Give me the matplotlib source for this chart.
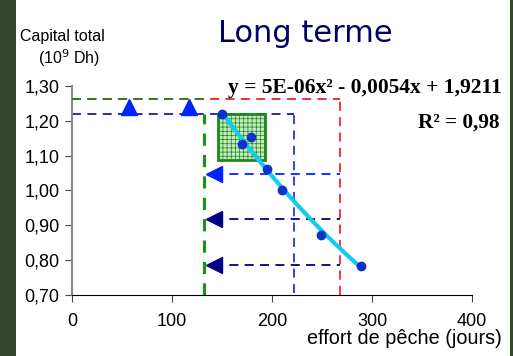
import numpy as np
import matplotlib
matplotlib.use('Agg')
import matplotlib.pyplot as plt
from matplotlib.patches import Rectangle

plt.rcParams.update({'font.family': 'Liberation Sans', 'font.size': 13})
plt.rcParams['hatch.color'] = '#9fd39a'
plt.rcParams['hatch.linewidth'] = 0.5

# observed points
effort = np.array([150, 170, 179, 195, 210, 249, 289])
capital = np.array([1.22, 1.133, 1.153, 1.062, 1.002, 0.872, 0.783])

# quadratic trend
coef = [5e-06, -0.0054, 1.9211]
xfit = np.linspace(150, 290, 60)

# reference levels
y_green = 1.262
y_blue = 1.22
x_green = 132
x_blue = 222
x_red = 268
arrow_y = [1.046, 0.917, 0.785]
arrow_col = ['#0022ff', '#000080', '#000080']
up_x = [57, 117]

# zone box
box_x = [146, 193]
box_y = [1.087, 1.22]

xticks = [0, 100, 200, 300, 400]
yticks = [0.70, 0.80, 0.90, 1.00, 1.10, 1.20, 1.30]

fig = plt.figure(figsize=(5.13, 3.56), dpi=100, facecolor='#34492f')
fig.patches.append(Rectangle((16/513, 0), 494/513, 1, transform=fig.transFigure,
                             facecolor='white', edgecolor='none', zorder=-5))
ax = fig.add_axes([72/513, 1-294.7/356, 400/513, (294.7-86)/356])
ax.set_zorder(2)
ax.set_facecolor('none')

dash = (0, (5, 3.5))
ax.plot([0, x_red], [y_green, y_green], color='#ee2222', ls=dash, lw=1.3, zorder=2)
ax.plot([0, 133], [y_green, y_green], color='#2e7d1e', ls=dash, lw=1.3, zorder=3)
ax.plot([x_red, x_red], [0.70, y_green], color='#ff2222', ls=dash, lw=1.3)
ax.plot([0, x_blue], [y_blue, y_blue], color='#1a1aa0', ls=dash, lw=1.3)
ax.plot([x_blue, x_blue], [0.705, y_blue], color='#2233ff', ls=dash, lw=1.3)
ax.plot([x_green, x_green], [0.70, y_blue], color='#119911', ls=(0, (4, 3)), lw=2.2)

for yy, cc in zip(arrow_y, arrow_col):
    ax.plot([x_green + 10, x_red], [yy, yy], color=cc, ls=dash, lw=1.3)
    ax.plot(x_green + 10, yy, marker='<', color=cc, ms=11, clip_on=False)
for xx in up_x:
    ax.plot(xx, 1.241, marker='^', color='#0022ff', ms=11)

ax.add_patch(Rectangle((box_x[0], box_y[0]), box_x[1]-box_x[0], box_y[1]-box_y[0],
                       facecolor='#c8e8c0', edgecolor='#1a8a1a', lw=2, hatch='++++',
                       zorder=4))

ax.plot(xfit, np.polyval(coef, xfit), color='#11ccee', lw=3, zorder=5)
ax.plot(effort, capital, 'o', color='#0a33cc', ms=6, zorder=6)

ax.set_xlim(0, 400)
ax.set_ylim(0.70, 1.30)
ax.set_xticks(xticks)
ax.set_xticklabels([str(t) for t in xticks])
ax.set_yticks(yticks)
ax.set_yticklabels([('%.2f' % t).replace('.', ',') for t in yticks])
ax.spines['top'].set_visible(False)
ax.spines['right'].set_visible(False)
ax.spines['left'].set_color('#888888')
ax.spines['left'].set_linewidth(1.5)
ax.tick_params(axis='y', direction='out', length=5, color='#444444', pad=4)
ax.tick_params(axis='x', direction='out', length=5, color='#444444', pad=8)

fig.text(305/513, 1-33/356, 'Long terme', color='#000066', family='DejaVu Sans',
         fontsize=22, ha='center', va='center')
fig.text(20/513, 1-37/356, 'Capital total', fontsize=11.5, ha='left', va='center')
fig.text(38/513, 1-58/356, '(10$^9$ Dh)', fontsize=11.5, ha='left', va='center')
fig.text(502/513, 1-88/356, 'y = 5E-06x² - 0,0054x + 1,9211', family='Liberation Serif',
         fontweight='bold', fontsize=15.5, ha='right', va='center')
fig.text(500/513, 1-123/356, 'R² = 0,98', family='Liberation Serif',
         fontweight='bold', fontsize=15.3, ha='right', va='center')
fig.text(502/513, 1-338/356, 'effort de pêche (jours)', fontsize=14.3, ha='right', va='center')

fig.savefig('out.png', dpi=100, facecolor=fig.get_facecolor())
